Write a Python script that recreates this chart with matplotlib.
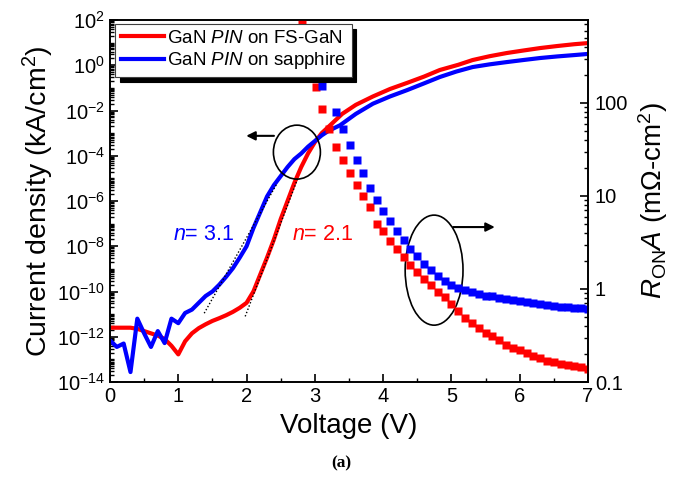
import matplotlib
matplotlib.use('Agg')
import matplotlib.pyplot as plt
import numpy as np
from matplotlib.patches import Ellipse
from matplotlib.ticker import LogLocator, FixedLocator, FuncFormatter, NullFormatter

plt.rcParams['font.family'] = ['Liberation Sans', 'DejaVu Sans']
plt.rcParams['mathtext.fontset'] = 'custom'
plt.rcParams['mathtext.rm'] = 'Liberation Sans'
plt.rcParams['mathtext.it'] = 'Liberation Sans:italic'
plt.rcParams['mathtext.bf'] = 'Liberation Sans:bold'

# current density, log10(kA/cm^2) vs voltage
v_fs = [0, 0.3, 0.4, 0.5, 0.6, 0.7, 0.8, 0.9, 1.0, 1.1, 1.2, 1.3, 1.4, 1.5, 1.6, 1.7,
        1.8, 1.9, 2.0, 2.1, 2.2, 2.3, 2.4, 2.5, 2.6, 2.7, 2.8, 2.9, 3.0, 3.1, 3.2, 3.4,
        3.6, 3.85, 4.1, 4.35, 4.6, 4.83, 5.1, 5.31, 5.56, 5.81, 6.05, 6.3, 6.55, 6.8, 7.0]
logj_fs = [-11.6, -11.6, -11.65, -11.75, -11.85, -11.95, -12.1, -12.4, -12.78, -12.2,
           -11.85, -11.62, -11.45, -11.3, -11.18, -11.05, -10.9, -10.72, -10.5, -10.0,
           -9.25, -8.5, -7.7, -6.8, -6.0, -5.2, -4.5, -3.9, -3.4, -3.0, -2.72, -2.15,
           -1.75, -1.38, -1.05, -0.78, -0.5, -0.21, 0.02, 0.23, 0.40, 0.54, 0.65, 0.76,
           0.85, 0.93, 0.98]

v_sap = [0, 0.1, 0.2, 0.3, 0.4, 0.5, 0.6, 0.7, 0.8, 0.9, 1.0, 1.1, 1.2, 1.3, 1.4, 1.5,
         1.6, 1.7, 1.8, 1.9, 2.0, 2.1, 2.2, 2.3, 2.4, 2.5, 2.6, 2.7, 2.8, 2.9, 3.0, 3.1,
         3.2, 3.37, 3.6, 3.85, 4.1, 4.35, 4.6, 4.83, 5.07, 5.31, 5.56, 5.81, 6.05, 6.3,
         6.55, 6.8, 7.0]
logj_sap = [-12.16, -12.45, -12.3, -13.56, -11.2, -11.85, -12.45, -11.75, -12.28, -11.2,
            -11.4, -10.95, -10.8, -10.5, -10.2, -10.0, -9.7, -9.35, -8.97, -8.5, -8.0,
            -7.2, -6.5, -5.8, -5.3, -4.9, -4.5, -4.15, -3.9, -3.6, -3.35, -3.1, -2.9,
            -2.65, -2.15, -1.7, -1.38, -1.1, -0.8, -0.52, -0.28, -0.08, 0.04, 0.14,
            0.23, 0.32, 0.39, 0.45, 0.5]

# ideality fits (dotted)
fit_v_sap = [1.38, 2.45]
fit_logj_sap = [-10.96, -5.2]
fit_v_fs = [1.98, 2.75]
fit_logj_fs = [-11.1, -5.0]

# specific on-resistance, log10(mOhm-cm^2)
vr_fs = [2.81, 3.02, 3.10, 3.21, 3.31, 3.41, 3.51, 3.61, 3.70, 3.81, 3.91, 4.0, 4.1, 4.2,
         4.3, 4.4, 4.5, 4.6, 4.7, 4.8, 4.9, 5.0, 5.1, 5.2, 5.3, 5.4, 5.5, 5.6, 5.7, 5.8,
         5.9, 6.0, 6.1, 6.2, 6.3, 6.4, 6.5, 6.6, 6.7, 6.8, 6.9, 7.0]
logr_fs = [2.88, 2.17, 1.94, 1.72, 1.53, 1.39, 1.25, 1.12, 1.00, 0.88, 0.70, 0.62, 0.52,
           0.43, 0.34, 0.26, 0.18, 0.11, 0.04, -0.03, -0.09, -0.16, -0.24, -0.31, -0.37,
           -0.42, -0.47, -0.51, -0.55, -0.60, -0.63, -0.66, -0.69, -0.72, -0.74, -0.77,
           -0.79, -0.81, -0.82, -0.83, -0.84, -0.86]
vr_sap = [3.10, 3.31, 3.41, 3.51, 3.61, 3.70, 3.81, 3.91, 4.0, 4.1, 4.2, 4.3, 4.4, 4.5,
          4.6, 4.7, 4.8, 4.9, 5.0, 5.1, 5.2, 5.3, 5.4, 5.5, 5.6, 5.7, 5.8, 5.9, 6.0, 6.1,
          6.2, 6.3, 6.4, 6.5, 6.6, 6.7, 6.8, 6.9, 7.0]
logr_sap = [2.18, 1.90, 1.72, 1.55, 1.39, 1.25, 1.09, 0.96, 0.84, 0.73, 0.62, 0.53, 0.43,
            0.35, 0.27, 0.20, 0.14, 0.09, 0.04, 0.01, -0.01, -0.03, -0.05, -0.07, -0.08,
            -0.10, -0.11, -0.12, -0.13, -0.14, -0.15, -0.16, -0.17, -0.18, -0.19, -0.195,
            -0.20, -0.205, -0.21]

red = '#ff0000'
blue = '#0000ff'

fig = plt.figure(figsize=(6.78, 4.80), dpi=100)
ax = fig.add_axes([110 / 678, 98 / 480, 478 / 678, 362 / 480])
ax2 = ax.twinx()

l1, = ax.plot(v_fs, 10.0 ** np.array(logj_fs), color=red, lw=3, label='GaN $\\mathit{PIN}$ on FS-GaN')
l2, = ax.plot(v_sap, 10.0 ** np.array(logj_sap), color=blue, lw=3, label='GaN $\\mathit{PIN}$ on sapphire')
ax.plot(fit_v_sap, 10.0 ** np.array(fit_logj_sap), color='k', ls=(0, (1, 1.5)), lw=1)
ax.plot(fit_v_fs, 10.0 ** np.array(fit_logj_fs), color='k', ls=(0, (1, 1.5)), lw=1)

ax2.plot(vr_fs, 10.0 ** np.array(logr_fs), 's', color=red, ms=5.5, mec='none')
ax2.plot(vr_sap, 10.0 ** np.array(logr_sap), 's', color=blue, ms=5.5, mec='none')

ax.set_xlim(0, 7)
ax.set_yscale('log')
ax.set_ylim(1e-14, 1e2)
ax.yaxis.set_major_locator(FixedLocator([10.0 ** k for k in range(-14, 3, 2)]))
ax.yaxis.set_minor_locator(LogLocator(base=10, subs=np.arange(1, 10), numticks=40))
ax.yaxis.set_minor_formatter(NullFormatter())
ax.set_xticks(range(8))
ax.set_xticks(np.arange(0.5, 7, 1), minor=True)

ax2.set_yscale('log')
ax2.set_ylim(0.1, 780)
ax2.yaxis.set_major_locator(FixedLocator([0.1, 1, 10, 100]))
ax2.yaxis.set_major_formatter(FuncFormatter(lambda y, p: '%g' % y))
ax2.yaxis.set_minor_locator(LogLocator(base=10, subs=np.arange(2, 10), numticks=20))
ax2.yaxis.set_minor_formatter(NullFormatter())

for a in (ax, ax2):
    a.tick_params(which='major', direction='in', length=6, width=1.2, labelsize=14.5)
    a.tick_params(which='minor', direction='in', length=3, width=1)
    for s in a.spines.values():
        s.set_linewidth(1.2)
ax.tick_params(top=False, right=False, which='both')
ax2.tick_params(top=False, which='both')
ax2.tick_params(axis='y', pad=5)

ax.set_xlabel('Voltage (V)', fontsize=20, labelpad=5)
ax.set_ylabel('Current density (kA/cm$^2$)', fontsize=20.5, labelpad=1)
ax2.set_ylabel('$R_{\\mathrm{ON}}A$ (m$\\Omega$-cm$^2$)', fontsize=20, labelpad=6)

leg = ax2.legend(handles=[l1, l2], loc='upper left', bbox_to_anchor=(0.0105, 0.989),
                 borderaxespad=0, fontsize=13.5, fancybox=False, framealpha=1,
                 edgecolor='#404040', handlelength=2.3, handletextpad=0.15,
                 borderpad=0.3, labelspacing=0.2,
                 shadow={'color': 'black', 'alpha': 1, 'ox': 3.5, 'oy': -3.5})
leg.get_frame().set_linewidth(0.8)

ax2.add_patch(Ellipse((0.391, 0.635), 0.0983, 0.149, transform=ax2.transAxes,
                      fill=False, ec='k', lw=1.2))
ax2.add_patch(Ellipse((0.678, 0.309), 0.121, 0.304, transform=ax2.transAxes,
                      fill=False, ec='k', lw=1.2))
ax2.annotate('', xy=(0.285, 0.680), xytext=(0.343, 0.680), xycoords='axes fraction',
             arrowprops=dict(arrowstyle='-|>', color='k', lw=1.5, mutation_scale=13,
                             shrinkA=0, shrinkB=0))
ax2.annotate('', xy=(0.805, 0.428), xytext=(0.718, 0.428), xycoords='axes fraction',
             arrowprops=dict(arrowstyle='-|>', color='k', lw=1.5, mutation_scale=13,
                             shrinkA=0, shrinkB=0))

ax2.text(0.132, 0.392, '$n$= 3.1', color=blue, fontsize=15.5, transform=ax2.transAxes)
ax2.text(0.381, 0.392, '$n$= 2.1', color=red, fontsize=15.5, transform=ax2.transAxes)

fig.text(341 / 678, 1 - 463 / 480, '(a)', ha='center', va='center', fontsize=12.5,
         family='Liberation Serif', weight='bold')

fig.savefig('out.png', dpi=100)
